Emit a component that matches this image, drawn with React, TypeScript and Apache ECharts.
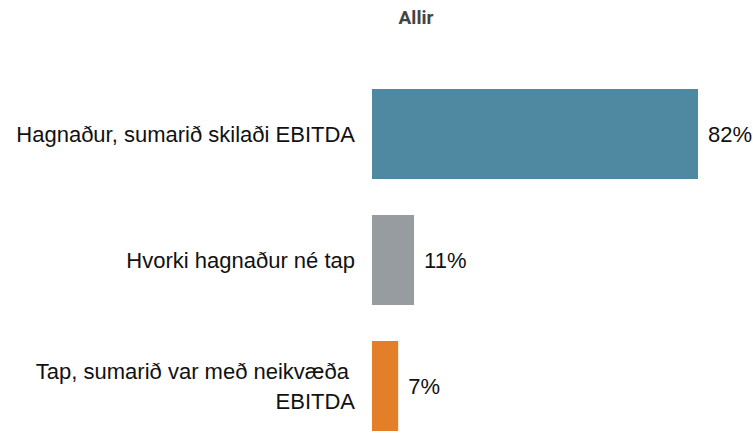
import React, { useEffect, useRef } from "react";
import * as echarts from "echarts";

const categories = [
  "Hagnaður, sumarið skilaði EBITDA",
  "Hvorki hagnaður né tap",
  "Tap, sumarið var með neikvæða \nEBITDA",
];
const values = [82.2, 10.6, 6.6];
const colors = ["#4f88a1", "#969c9f", "#e27f28"];
const title = "Allir";

export default function App() {
  const ref = useRef<HTMLDivElement>(null);
  useEffect(() => {
    if (!ref.current) return;
    const chart = echarts.init(ref.current, undefined, { renderer: "svg" });
    chart.setOption({
      animation: false,
      title: {
        text: title,
        left: 411,
        textAlign: "center",
        top: 3,
        textStyle: { fontFamily: "Roboto", fontWeight: "bold", fontSize: 19, color: "#444" },
      },
      grid: { left: 372, right: 55, top: 71, height: 378, containLabel: false },
      xAxis: {
        type: "value",
        min: 0,
        max: values[0],
        show: false,
      },
      yAxis: {
        type: "category",
        data: categories,
        inverse: true,
        axisLine: { show: false },
        axisTick: { show: false },
        axisLabel: {
          margin: 17,
          fontFamily: "Liberation Sans, Arial, sans-serif",
          fontSize: 22,
          color: "#111",
          lineHeight: 30,
          align: "right",
        },
      },
      series: [
        {
          type: "bar",
          data: values.map((v, i) => ({ value: v, itemStyle: { color: colors[i] } })),
          barWidth: 90,
          label: {
            show: true,
            position: "right",
            distance: 10,
            formatter: (p: any) => Math.round(p.value) + "%",
            fontFamily: "Liberation Sans, Arial, sans-serif",
            fontSize: 22,
            color: "#111",
          },
        },
      ],
    });
    return () => chart.dispose();
  }, []);
  return (
    <div
      style={{
        position: "fixed",
        left: 0,
        top: 0,
        width: 753,
        height: 433,
        overflow: "hidden",
        background: "#fff",
      }}
    >
      <div ref={ref} style={{ width: 753, height: 460 }} />
    </div>
  );
}
